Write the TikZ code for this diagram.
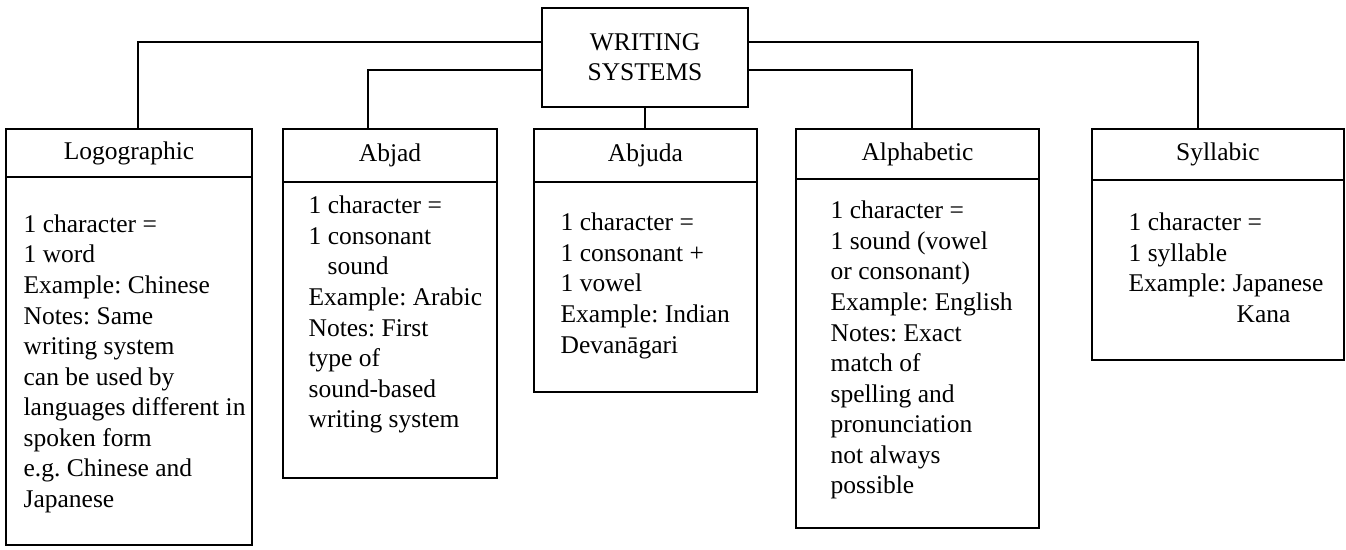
\documentclass[tikz,border=0pt]{standalone}
\usepackage{fontspec}
\setmainfont{Liberation Serif}
\frenchspacing
\begin{document}
\begin{tikzpicture}[x=1pt,y=-1pt,line width=1.3pt,
  box/.style={draw, anchor=north west, inner sep=0pt, outer sep=0pt},
  hdr/.style={font=\fontsize{25.5}{30}\selectfont},
  txt/.style={anchor=north west, inner sep=0pt, align=left, font=\fontsize{25.5}{30.55}\selectfont}
]
\useasboundingbox (0,0) rectangle (1346,549);

% root
\node[draw, minimum width=206pt, minimum height=99pt, inner sep=0pt, outer sep=0pt, align=center, hdr] (ws) at (645,57.5) {WRITING\\SYSTEMS};

% Logographic
\node[box, hdr, minimum width=246pt, minimum height=48pt] (logoh) at (6,129) {Logographic};
\node[box, minimum width=246pt, minimum height=368pt] (logob) at (6,177) {};
\node[txt] (logot) at (23,214) {1 character =\\1 word\\Example: Chinese\\Notes: Same\\writing system\\can be used by\\languages different in\\spoken form\\e.g. Chinese and\\Japanese};

% Abjad
\node[box, hdr, minimum width=214pt, minimum height=53pt] (abjadh) at (283,129) {Abjad};
\node[box, minimum width=214pt, minimum height=296pt] (abjadb) at (283,182) {};
\node[txt] (abjadt) at (308,195.5) {1 character =\\1 consonant\\\hspace*{19pt}sound\\Example: Arabic\\Notes: First\\type of\\sound-based\\writing system};

% Abjuda
\node[box, hdr, minimum width=223pt, minimum height=53pt] (abjudah) at (534,129) {Abjuda};
\node[box, minimum width=223pt, minimum height=210pt] (abjudab) at (534,182) {};
\node[txt] (abjudat) at (560,212.5) {1 character =\\1 consonant +\\1 vowel\\Example: Indian\\Devanāgari};

% Alphabetic
\node[box, hdr, minimum width=243pt, minimum height=50pt] (alphh) at (796,129) {Alphabetic};
\node[box, minimum width=243pt, minimum height=349pt] (alphb) at (796,179) {};
\node[txt] (alpht) at (830,200.5) {1 character =\\1 sound (vowel\\or consonant)\\Example: English\\Notes: Exact\\match of\\spelling and\\pronunciation\\not always\\possible};

% Syllabic
\node[box, hdr, minimum width=252pt, minimum height=51pt] (sylh) at (1092,129) {Syllabic};
\node[box, minimum width=252pt, minimum height=180pt] (sylb) at (1092,180) {};
\node[txt] (sylt) at (1128,212.5) {1 character =\\1 syllable\\Example: Japanese\\\hspace*{108pt}Kana};

% connectors
\draw ([yshift=15.5pt]ws.west) -| ([xshift=9pt]logoh.north);
\draw ([yshift=-12.5pt]ws.west) -| ([xshift=-22pt]abjadh.north);
\draw (ws.south) -- (ws.south |- abjudah.north);
\draw ([yshift=-12.5pt]ws.east) -| ([xshift=-5.5pt]alphh.north);
\draw ([yshift=15.5pt]ws.east) -| ([xshift=-20pt]sylh.north);
\end{tikzpicture}
\end{document}
